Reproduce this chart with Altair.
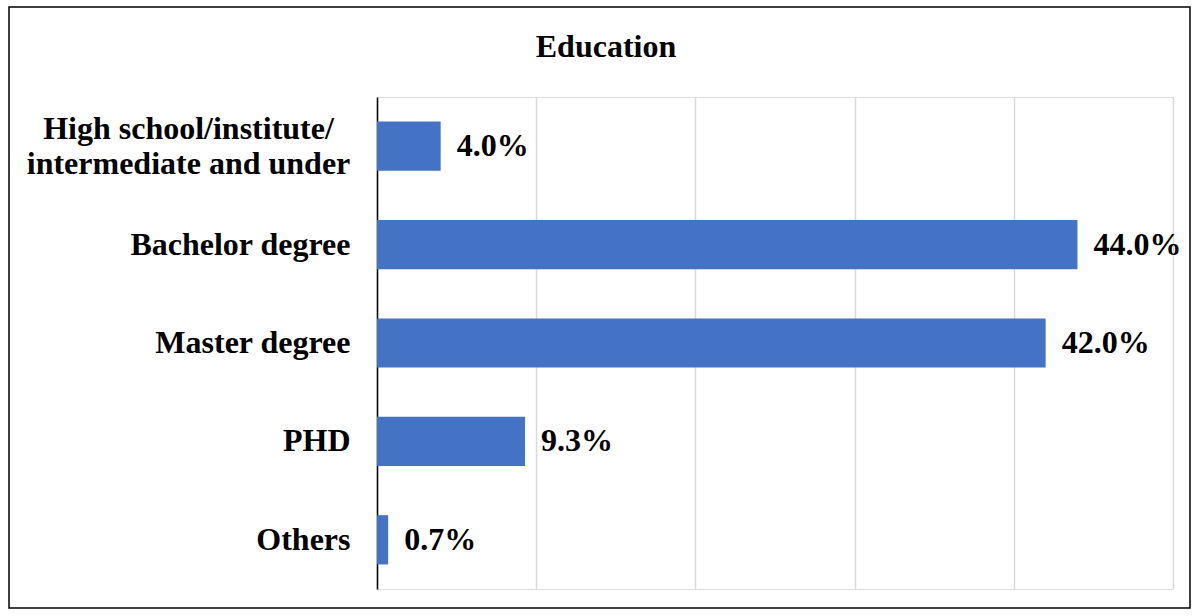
import altair as alt
import pandas as pd

categories = [
    "High school/institute/ intermediate and under",
    "Bachelor degree",
    "Master degree",
    "PHD",
    "Others",
]
values = [4.0, 44.0, 42.0, 9.3, 0.7]
labels = ["4.0%", "44.0%", "42.0%", "9.3%", "0.7%"]
title_text = ["Education"]

df = pd.DataFrame({"cat": categories, "val": values, "lab": labels})
tdf = pd.DataFrame({"t": title_text})

FONT = "Liberation Serif, Times New Roman, serif"
LONG = categories[0]
FS = 32

y_enc = alt.Y(
    "cat:N",
    sort=categories,
    title=None,
    scale=alt.Scale(paddingInner=0.5, paddingOuter=0.25),
    axis=alt.Axis(
        domain=True,
        domainColor="black",
        domainWidth=1.5,
        ticks=False,
        labelFont=FONT,
        labelFontWeight="bold",
        labelFontSize=FS,
        labelColor="black",
        labelLimit=600,
        labelAlign=alt.condition(f"datum.value == '{LONG}'", alt.value("center"), alt.value("right")),
        labelPadding=alt.condition(f"datum.value == '{LONG}'", alt.value(189), alt.value(27)),
        labelOffset=alt.condition(f"datum.value == '{LONG}'", alt.value(-17), alt.value(0)),
        labelLineHeight=35,
        labelExpr=f"datum.value == '{LONG}' ? ['High school/institute/', 'intermediate and under'] : datum.label",
    ),
)

x_enc = alt.X(
    "val:Q",
    title=None,
    scale=alt.Scale(domain=[0, 50], nice=False),
    axis=alt.Axis(
        values=[0, 10, 20, 30, 40, 50],
        labels=False,
        ticks=False,
        domain=False,
        grid=True,
        gridColor="#d9d9d9",
        gridWidth=1.5,
    ),
)

bars = alt.Chart(df).mark_bar(color="#4472C4").encode(x=x_enc, y=y_enc)
text = alt.Chart(df).mark_text(
    align="left", baseline="middle", dx=16, font=FONT, fontWeight="bold", fontSize=FS, color="black"
).encode(x="val:Q", y=alt.Y("cat:N", sort=categories), text="lab:N")

frame = alt.Chart(tdf).mark_rect(fill=None, stroke="black", strokeWidth=1.5).encode(
    x=alt.value(-368), x2=alt.value(813), y=alt.value(-90), y2=alt.value(511)
)

title = alt.Chart(tdf).mark_text(
    align="center", baseline="alphabetic", font=FONT, fontWeight="bold", fontSize=FS, color="black"
).encode(x=alt.value(229), y=alt.value(-40), text="t:N")

chart = (
    alt.layer(frame, bars, text, title)
    .properties(
        width=796,
        height=492,
        autosize=alt.AutoSizeParams(type="none"),
        padding={"left": 377, "top": 97, "right": 24, "bottom": 27},
    )
    .configure_view(stroke=None)
    .configure(background="white")
)

chart.save("out.html", embed_options={"renderer": "svg", "actions": False})
